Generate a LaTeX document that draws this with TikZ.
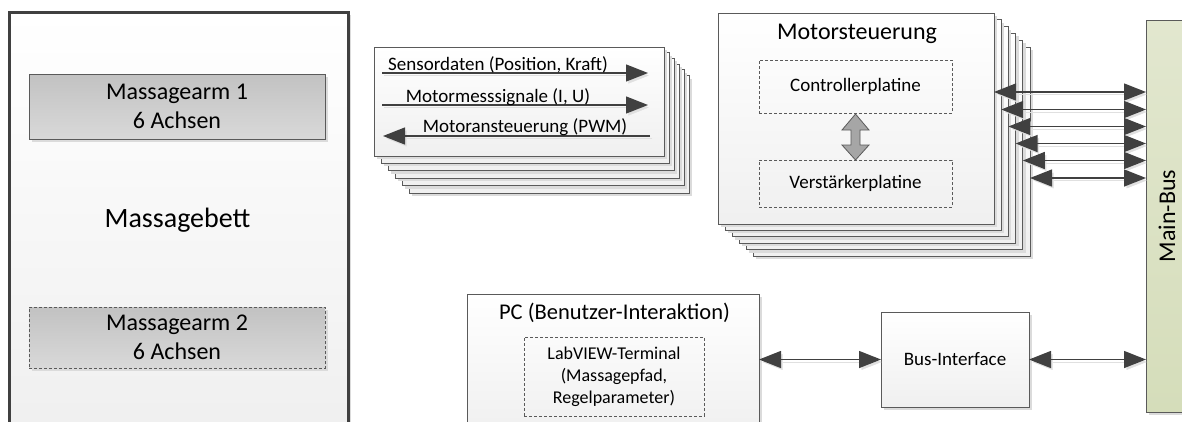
\documentclass[tikz,border=0pt]{standalone}
\usepackage{fontspec}
\setmainfont{Carlito}
\usetikzlibrary{arrows.meta,calc,shadows}

\definecolor{edge}{HTML}{5A5A5A}
\definecolor{arrowc}{HTML}{404040}
\definecolor{bustop}{HTML}{E2E7CF}
\definecolor{busbot}{HTML}{D5DDBA}

\begin{document}
\begin{tikzpicture}[x=1pt,y=-1pt,
  shadowed/.style={drop shadow={shadow xshift=3pt,shadow yshift=-3pt,fill=black!14,opacity=1}},
  box/.style={draw=edge, line width=0.8pt, top color=white, bottom color=black!6,
    inner sep=0pt, outer sep=0pt, shadowed},
  armbox/.style={draw=edge, line width=0.8pt, top color=black!24, bottom color=black!15,
    inner sep=0pt, outer sep=0pt, shadowed, align=center,
    font=\fontsize{24}{29}\selectfont},
  inner/.style={draw=edge, line width=0.7pt, dash pattern=on 3pt off 2pt,
    inner sep=0pt, outer sep=0pt},
  arrshadow/.style={preaction={draw=black!12, transform canvas={shift={(2pt,-2.5pt)}}}},
  biarrow/.style={draw=arrowc, line width=1.4pt, {Triangle[length=22pt,width=17pt]}-{Triangle[length=22pt,width=17pt]}, arrshadow},
  sigarrow/.style={draw=arrowc, line width=1.3pt, -{Triangle[length=22pt,width=17pt]}, arrshadow},
  big/.style={font=\fontsize{24}{29}\selectfont},
  mid/.style={font=\fontsize{19}{23}\selectfont},
  small/.style={font=\fontsize{18}{22}\selectfont},
]
\useasboundingbox (0,0) rectangle (1182,421);
\clip (0,0) rectangle (1182,421);

% massage bed with its two arms
\node[box, draw=arrowc, line width=3pt, minimum width=339pt, minimum height=412pt] (mb) at (178.5,218) {};
\node[anchor=base, font=\fontsize{28}{34}\selectfont] (mbt) at (177.5,227) {Massagebett};
\node[armbox, minimum width=296pt, minimum height=65pt] (arm1) at (177,106.5) {Massagearm 1\\6 Achsen};
\node[armbox, dash pattern=on 3pt off 2pt, minimum width=296pt, minimum height=61pt] (arm2) at (177,337.5) {Massagearm 2\\6 Achsen};

% stack of signal cards
\foreach \k in {5,4,3,2,1,0}{
  \pgfmathsetmacro\xl{374+7*\k}
  \pgfmathsetmacro\xr{664+5*\k}
  \pgfmathsetmacro\yt{47+5.7*\k}
  \pgfmathsetmacro\yb{156+7.4*\k}
  \node[box, minimum width={(\xr-\xl)*1pt}, minimum height={(\yb-\yt)*1pt}] (sg\k) at ({(\xl+\xr)/2},{(\yt+\yb)/2}) {};
}
\draw[sigarrow] ($(sg0.west |- 0,73)+(8,0)$) coordinate (s1a) -- ($(sg0.east |- 0,73)+(-16,0)$) coordinate (s1b);
\draw[sigarrow] ($(sg0.west |- 0,105)+(8,0)$) coordinate (s2a) -- ($(sg0.east |- 0,105)+(-16,0)$) coordinate (s2b);
\draw[sigarrow] ($(sg0.east |- 0,136)+(-14,0)$) coordinate (s3a) -- ($(sg0.west |- 0,136)+(9,0)$) coordinate (s3b);
\node[mid, anchor=base] (l1) at (498,70.5) {Sensordaten (Position, Kraft)};
\node[mid, anchor=base] (l2) at (498,102) {Motormesssignale (I, U)};
\node[mid, anchor=base] (l3) at (525,132.5) {Motoransteuerung (PWM)};

% stack of motor controllers
\foreach \k in {5,4,3,2,1,0}{
  \pgfmathsetmacro\xl{718+7*\k}
  \pgfmathsetmacro\xr{994+7.2*\k}
  \pgfmathsetmacro\yt{13+6.8*\k}
  \pgfmathsetmacro\yb{224+6.4*\k}
  \node[box, minimum width={(\xr-\xl)*1pt}, minimum height={(\yb-\yt)*1pt}] (ms\k) at ({(\xl+\xr)/2},{(\yt+\yb)/2}) {};
}
\node[big, anchor=base] (mst) at (857,39.3) {Motorsteuerung};
\node[inner, mid, minimum width=193pt, minimum height=53pt] (ctrl) at (855.5,86.5) {Controllerplatine};
\node[inner, mid, minimum width=193pt, minimum height=47pt] (verst) at (855.5,183.5) {Verstärkerplatine};
\draw[draw=edge, line width=0.8pt, fill=black!35]
  let \p1=(ctrl.south), \p2=(verst.north) in
  (\x1,\y1-1pt) -- (\x1+13.5pt,\y1-17pt) -- (\x1+4.5pt,\y1-17pt) -- (\x1+4.5pt,\y2+15pt)
  -- (\x1+13.5pt,\y2+15pt) -- (\x1,\y2) -- (\x1-13.5pt,\y2+15pt) -- (\x1-4.5pt,\y2+15pt)
  -- (\x1-4.5pt,\y1-17pt) -- (\x1-13.5pt,\y1-17pt) -- cycle;

% main bus
\node[draw=edge, line width=0.8pt, top color=bustop, bottom color=busbot, shadowed,
  inner sep=0pt, outer sep=0pt, minimum width=42pt, minimum height=392pt] (bus) at (1167,216) {};
\node[big, rotate=90] (bust) at (bus.center) {Main-Bus};

\foreach \k/\y in {0/92,1/109.5,2/126.5,3/143.5,4/160.5,5/178}{
  \draw[biarrow] (ms\k.east |- 0,\y) -- (bus.west |- 0,\y);
}

% PC and bus interface
\node[box, minimum width=292pt, minimum height=140pt] (pc) at (613,364) {};
\node[font=\fontsize{22.5}{27}\selectfont, anchor=base] (pct) at (614.5,319) {PC (Benutzer-Interaktion)};
\node[inner, small, align=center, minimum width=180pt, minimum height=79pt] (lv) at (614,376.5)
  {LabVIEW-Terminal\\(Massagepfad,\\Regelparameter)};
\node[box, mid, minimum width=148pt, minimum height=95pt] (bi) at (955,359.5) {Bus-Interface};

\draw[biarrow] (pc.east |- bi.west) -- (bi.west);
\draw[biarrow] (bi.east) -- (bus.west |- bi.east);
\end{tikzpicture}
\end{document}
